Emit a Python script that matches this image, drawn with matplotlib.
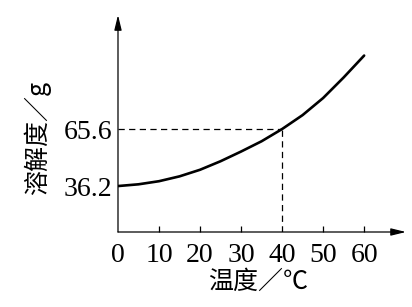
import matplotlib.pyplot as plt

# solubility curve
temps = [0, 5, 10, 15, 20, 25, 30, 35, 40, 45, 50, 55, 60]
solubility = [36.2, 37.1, 38.7, 41.2, 44.6, 49.0, 54.0, 59.3, 65.6, 72.8, 81.6, 92.2, 103.5]
x_ticks = [0, 10, 20, 30, 40, 50, 60]
y_ticks = [36.2, 65.6]
mark_t, mark_s = 40, 65.6

serif = ['Liberation Serif', 'DejaVu Serif']
cjk = ['Noto Sans CJK SC', 'DejaVu Sans']

fig = plt.figure(figsize=(4.12, 3.07), dpi=100)
ax = fig.add_axes([0.2864, 0.2443, 0.699, 0.7067])
ax.set_xlim(0, 70.2)
ax.set_ylim(12.5, 124.4)

ax.plot(temps, solubility, color='black', lw=1.9, solid_capstyle='round',
        solid_joinstyle='round')

# dashed guide lines to the marked point
ax.plot([0, mark_t], [mark_s, mark_s], color='black', lw=0.9, ls=(0, (5, 3.5)))
ax.plot([mark_t, mark_t], [12.5, mark_s], color='black', lw=0.9, ls=(0, (5, 3.5)))

for s in ['top', 'right', 'left', 'bottom']:
    ax.spines[s].set_visible(False)

# axes as arrows
ax.annotate('', xy=(0, 1), xytext=(0, 0), xycoords='axes fraction',
            arrowprops=dict(arrowstyle='-|>,head_length=0.9,head_width=0.22',
                            color='black', lw=0.9, shrinkA=0, shrinkB=0))
ax.annotate('', xy=(1, 0), xytext=(0, 0), xycoords='axes fraction',
            arrowprops=dict(arrowstyle='-|>,head_length=0.9,head_width=0.22',
                            color='black', lw=0.9, shrinkA=0, shrinkB=0))

ax.set_xticks(x_ticks)
ax.set_xticklabels([str(t) for t in x_ticks], family=serif, fontsize=20)
ax.set_yticks(y_ticks)
ax.set_yticklabels([str(v) for v in y_ticks], family=serif, fontsize=20)
ax.tick_params(axis='x', direction='in', length=4, width=0.9, pad=8)
ax.tick_params(axis='y', length=0, pad=4)
# hide the tick marks at 0 and 40
for i, t in enumerate(ax.xaxis.get_major_ticks()):
    if x_ticks[i] in (0, 40):
        t.tick1line.set_visible(False)

fig.text(0.09, 0.55, '溶解度／g', rotation=90, ha='center', va='center',
         family=cjk, fontsize=18)
fig.text(0.626, 0.081, '温度／℃', ha='center', va='center',
         family=cjk, fontsize=18)

fig.savefig('out.png', dpi=100)
